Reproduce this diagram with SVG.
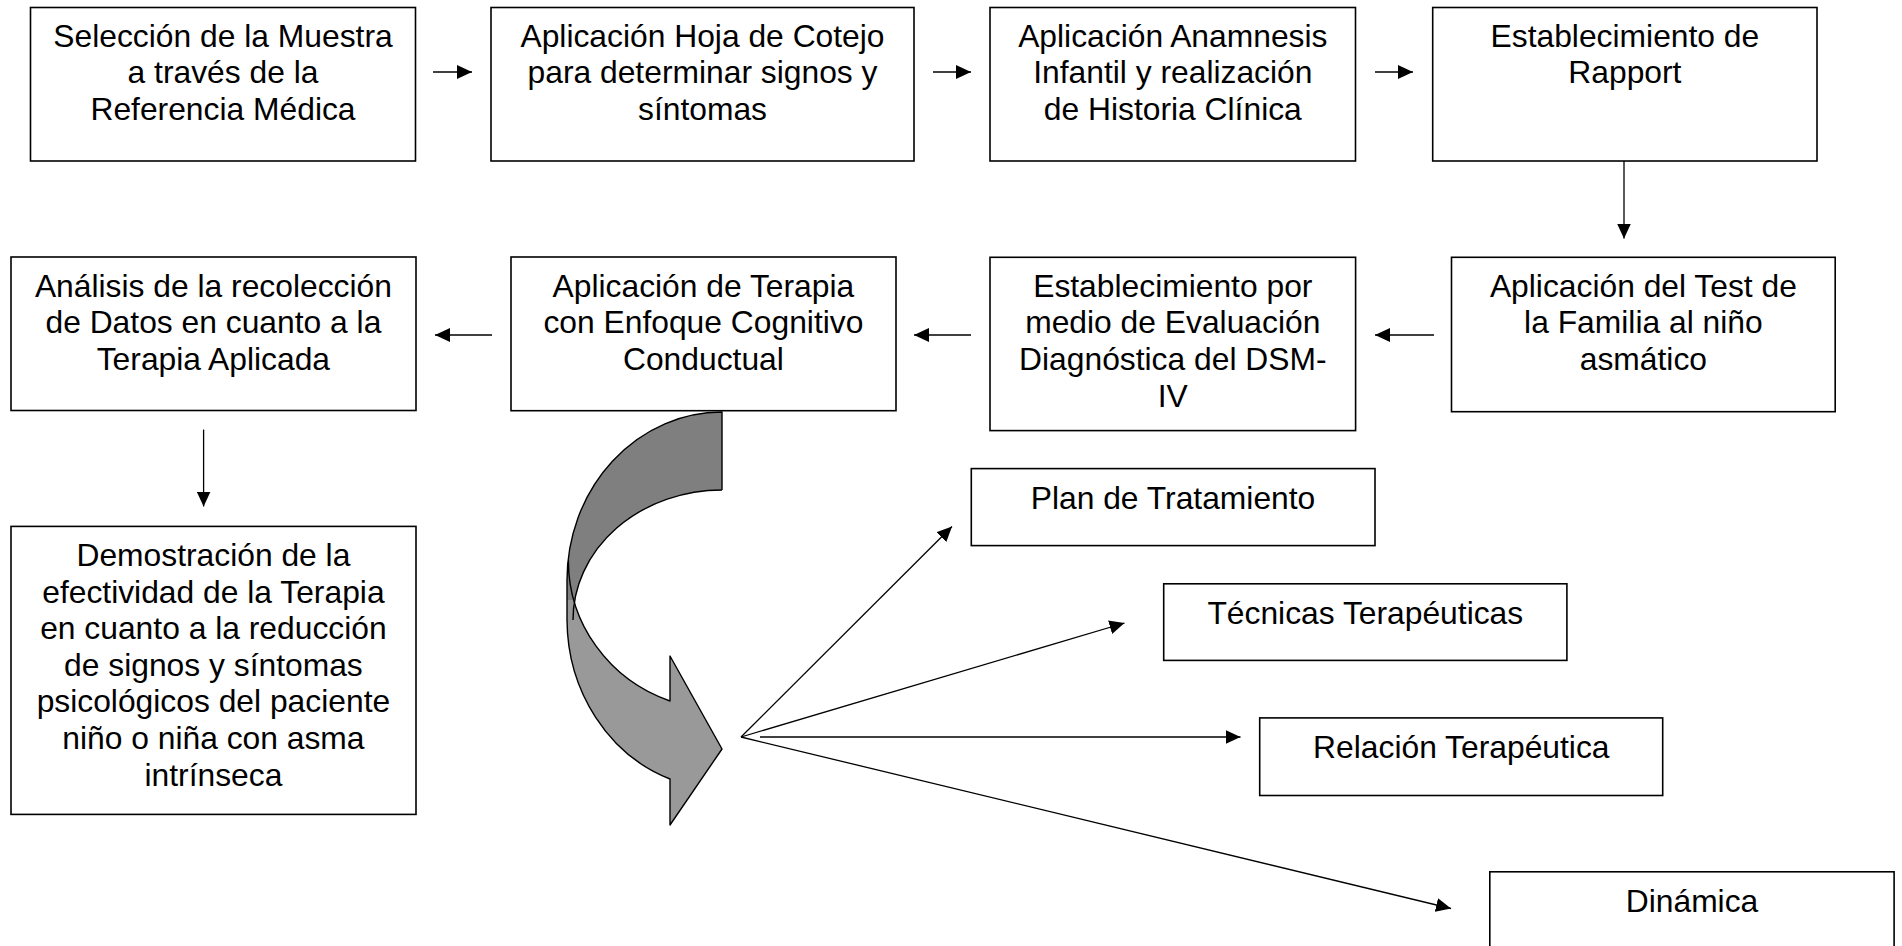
<svg xmlns="http://www.w3.org/2000/svg" width="1902" height="946" viewBox="0 0 1902 946">
<style>
.box{fill:#fff;stroke:#000;stroke-width:1.6}
.t{font-family:"Liberation Sans",Arial,sans-serif;font-size:31.8px;fill:#000;text-anchor:middle}
.c{stroke:#000;stroke-width:1.3;fill:none;marker-end:url(#ah)}
</style>
<defs>
<marker id="ah" markerUnits="userSpaceOnUse" markerWidth="16" markerHeight="14" refX="15" refY="7" orient="auto">
<path d="M0,0 L15,7 L0,14 Z" fill="#000"/>
</marker>
</defs>
<rect width="1902" height="946" fill="#fff"/>

<g id="n1"><rect class="box" x="30.5" y="7.5" width="385" height="153.5"/>
<text class="t" x="223" y="46.7">Selección de la Muestra</text>
<text class="t" x="223" y="83.3">a través de la</text>
<text class="t" x="223" y="120">Referencia Médica</text></g>

<g id="n2"><rect class="box" x="491" y="7.5" width="423" height="153.5"/>
<text class="t" x="702.5" y="46.7">Aplicación Hoja de Cotejo</text>
<text class="t" x="702.5" y="83.3">para determinar signos y</text>
<text class="t" x="702.5" y="120">síntomas</text></g>

<g id="n3"><rect class="box" x="990" y="7.5" width="365.5" height="153.5"/>
<text class="t" x="1172.8" y="46.7">Aplicación Anamnesis</text>
<text class="t" x="1172.8" y="83.3">Infantil y realización</text>
<text class="t" x="1172.8" y="120">de Historia Clínica</text></g>

<g id="n4"><rect class="box" x="1432.7" y="7.5" width="384.3" height="153.5"/>
<text class="t" x="1624.9" y="46.7">Establecimiento de</text>
<text class="t" x="1624.9" y="83.3">Rapport</text></g>

<g id="n5"><rect class="box" x="11" y="257" width="405" height="153.5"/>
<text class="t" x="213.4" y="296.5">Análisis de la recolección</text>
<text class="t" x="213.4" y="333.1">de Datos en cuanto a la</text>
<text class="t" x="213.4" y="369.7">Terapia Aplicada</text></g>

<g id="n6"><rect class="box" x="511" y="257" width="385" height="153.7"/>
<text class="t" x="703.4" y="296.5">Aplicación de Terapia</text>
<text class="t" x="703.4" y="333.1">con Enfoque Cognitivo</text>
<text class="t" x="703.4" y="369.7">Conductual</text></g>

<g id="n7"><rect class="box" x="990" y="257.3" width="365.6" height="173.3"/>
<text class="t" x="1172.8" y="296.7">Establecimiento por</text>
<text class="t" x="1172.8" y="333.3">medio de Evaluación</text>
<text class="t" x="1172.8" y="370">Diagnóstica del DSM-</text>
<text class="t" x="1172.8" y="406.6">IV</text></g>

<g id="n8"><rect class="box" x="1451.5" y="257.3" width="383.7" height="154.4"/>
<text class="t" x="1643.4" y="296.7">Aplicación del Test de</text>
<text class="t" x="1643.4" y="333.3">la Familia al niño</text>
<text class="t" x="1643.4" y="370">asmático</text></g>

<g id="n9"><rect class="box" x="11" y="526.4" width="405" height="288"/>
<text class="t" x="213.4" y="566">Demostración de la</text>
<text class="t" x="213.4" y="602.6">efectividad de la Terapia</text>
<text class="t" x="213.4" y="639.2">en cuanto a la reducción</text>
<text class="t" x="213.4" y="675.8">de signos y síntomas</text>
<text class="t" x="213.4" y="712.4">psicológicos del paciente</text>
<text class="t" x="213.4" y="749">niño o niña con asma</text>
<text class="t" x="213.4" y="785.6">intrínseca</text></g>

<g id="n10"><rect class="box" x="971.3" y="468.6" width="403.7" height="77"/>
<text class="t" x="1173" y="508.5">Plan de Tratamiento</text></g>

<g id="n11"><rect class="box" x="1163.7" y="583.8" width="403.2" height="76.6"/>
<text class="t" x="1365.3" y="623.5">Técnicas Terapéuticas</text></g>

<g id="n12"><rect class="box" x="1259.7" y="717.9" width="403" height="77.6"/>
<text class="t" x="1461.3" y="757.5">Relación Terapéutica</text></g>

<g id="n13"><rect class="box" x="1489.8" y="871.8" width="404.3" height="80"/>
<text class="t" x="1692" y="911.5">Dinámica</text></g>

<g id="curved-arrow">
<path d="M567,600 L567,620 A155,170 0 0 0 670,779 L670,825 L722,749 L670,656 L670,701 A153.6,149 0 0 1 574,600 Z" fill="#999999" stroke="none"/>
<path d="M722,412 A155,168 0 0 0 567,580 L567,600 L574.8,600 A149,130 0 0 1 722,490 Z" fill="#7f7f7f" stroke="none"/>
<path d="M722,490 L722,412 A155,168 0 0 0 567,580 L567,620 A155,170 0 0 0 670,779 L670,825 L722,749 L670,656 L670,701 A153.6,149 0 0 1 568.4,560" fill="none" stroke="#000" stroke-width="1.4" stroke-linejoin="round"/>
<path d="M573,620 A149,130 0 0 1 722,490" fill="none" stroke="#000" stroke-width="1.4"/>
</g>

<g id="connectors">
<line class="c" x1="433" y1="72" x2="472" y2="72"/>
<line class="c" x1="933" y1="72" x2="971" y2="72"/>
<line class="c" x1="1375" y1="72" x2="1413" y2="72"/>
<line class="c" x1="1624" y1="161" x2="1624" y2="238.5"/>
<line class="c" x1="1434" y1="335" x2="1375" y2="335"/>
<line class="c" x1="971" y1="335" x2="914" y2="335"/>
<line class="c" x1="492" y1="335" x2="435" y2="335"/>
<line class="c" x1="203.6" y1="429.6" x2="203.6" y2="506.5"/>
<line class="c" x1="741" y1="737" x2="952" y2="526.5"/>
<line class="c" x1="741" y1="737" x2="1124.5" y2="623"/>
<line class="c" x1="760" y1="737" x2="1240.5" y2="737"/>
<line class="c" x1="741" y1="737" x2="1451" y2="908.5"/>
</g>
</svg>
